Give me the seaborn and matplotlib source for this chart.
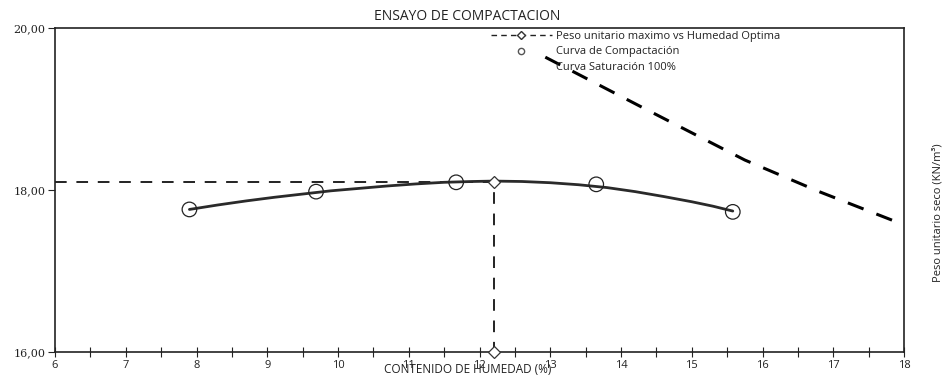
import matplotlib
matplotlib.use("Agg")
import matplotlib.pyplot as plt
from matplotlib.lines import Line2D
from matplotlib.ticker import MultipleLocator
import seaborn as sns
import pandas as pd

# ---- data ----
title = "ENSAYO DE COMPACTACION"
xlabel = "CONTENIDO DE HUMEDAD (%)"
ylabel = "Peso unitario seco (KN/m³)"

# compaction test points
humedad = [7.90, 9.69, 11.67, 13.65, 15.58]
peso_seco = [17.76, 17.98, 18.095, 18.07, 17.73]

# fitted compaction curve
curva_x = [7.90, 8.3, 8.7, 9.1, 9.5, 9.9, 10.3, 10.7, 11.1, 11.5, 11.9, 12.2,
           12.6, 13.0, 13.4, 13.8, 14.2, 14.6, 15.0, 15.3, 15.58]
curva_y = [17.76, 17.815, 17.865, 17.91, 17.95, 17.99, 18.02, 18.05, 18.075, 18.095, 18.105, 18.11,
           18.105, 18.09, 18.065, 18.03, 17.98, 17.92, 17.855, 17.80, 17.74]

# max dry unit weight vs optimum moisture (dashed guide)
opt_x = [6.0, 12.2, 12.2]
opt_y = [18.1, 18.1, 16.0]

# 100% saturation curve
sat_x = [12.93, 14.3, 15.75, 16.8, 18.0]
sat_y = [19.64, 19.02, 18.37, 17.98, 17.57]

legend_labels = ["Peso unitario maximo vs Humedad Optima",
                 "Curva de Compactación",
                 "Curva Saturación 100%"]
ytick_vals = [16, 18, 20]
ytick_labels = ["16,00", "18,00", "20,00"]
xtick_vals = list(range(6, 19))

# ---- figure ----
sns.set_style("white")
plt.rcParams["font.family"] = ["Open Sans", "DejaVu Sans"]

fig = plt.figure(figsize=(9.46, 3.82), dpi=100)
ax = fig.add_axes([55 / 946, 1 - 352 / 382, 849 / 946, 324 / 382])

df_sat = pd.DataFrame({"x": sat_x, "y": sat_y})
sns.lineplot(data=df_sat, x="x", y="y", ax=ax, color="black",
             linewidth=2.2, linestyle=(0, (5.5, 4.5)), estimator=None, sort=False)

df_opt = pd.DataFrame({"x": opt_x, "y": opt_y})
sns.lineplot(data=df_opt, x="x", y="y", ax=ax, color="#222222",
             linewidth=1.4, linestyle=(0, (6, 5)), estimator=None, sort=False)
ax.plot(opt_x[1:], opt_y[1:], linestyle="none", marker="D", markersize=6,
        markerfacecolor="white", markeredgecolor="#333333", markeredgewidth=0.9,
        clip_on=False, zorder=6)

df_curve = pd.DataFrame({"x": curva_x, "y": curva_y})
sns.lineplot(data=df_curve, x="x", y="y", ax=ax, color="#2a2a2a",
             linewidth=2.0, estimator=None, sort=False)

df_pts = pd.DataFrame({"x": humedad, "y": peso_seco})
sns.scatterplot(data=df_pts, x="x", y="y", ax=ax, s=110, marker="o",
                facecolor="none", edgecolor="#222222", linewidth=0.9, zorder=5)

ax.set_xlim(6, 18)
ax.set_ylim(16, 20)

ax.set_xticks(xtick_vals)
ax.set_xticklabels([str(v) for v in xtick_vals], fontsize=8)
ax.xaxis.set_minor_locator(MultipleLocator(0.5))
ax.tick_params(axis="x", which="both", direction="inout", length=7, width=0.8,
               bottom=True, pad=2, colors="#222222")
ax.set_yticks(ytick_vals)
ax.set_yticklabels(ytick_labels, fontsize=8, family=["DejaVu Serif"])
ax.tick_params(axis="y", which="both", direction="out", length=5, width=0.8,
               left=True, pad=2, colors="#222222")

for sp in ax.spines.values():
    sp.set_visible(True)
    sp.set_color("#222222")
    sp.set_linewidth(1.2)

ax.set_xlabel(xlabel, fontsize=8.5, color="#222222")
ax.xaxis.set_label_coords(0.486, -0.035)
ax.xaxis.label.set_va("top")

ax.yaxis.set_label_position("right")
ax.set_ylabel(ylabel, fontsize=8, color="#222222", rotation=90,
              ha="center", va="center")
ax.yaxis.set_label_coords(1.04, 0.43)

ax.set_title(title, fontsize=10, x=0.486, pad=6, color="#222222")

handles = [
    Line2D([], [], color="#222222", linestyle=(0, (4, 3)), linewidth=1.0,
           marker="D", markersize=4, markerfacecolor="white",
           markeredgecolor="#333333"),
    Line2D([], [], color="#222222", linestyle="none", marker="o", markersize=4.5,
           markerfacecolor="white", markeredgecolor="#555555"),
    Line2D([], [], color="none"),
]
leg = ax.legend(handles, legend_labels, frameon=False, fontsize=8,
                loc="upper left", bbox_to_anchor=(0.508, 1.005),
                handlelength=5.5, handletextpad=0.4, labelspacing=0.42,
                borderaxespad=0.0)
for t in leg.get_texts():
    t.set_color("#222222")

fig.savefig("out.png", dpi=100)
